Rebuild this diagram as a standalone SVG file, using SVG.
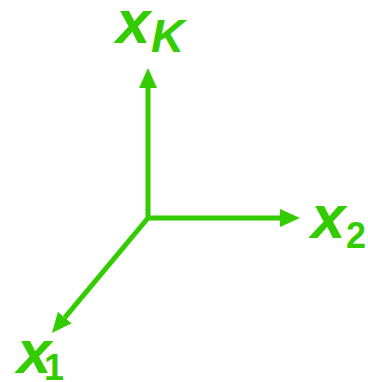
<svg xmlns="http://www.w3.org/2000/svg" width="368" height="382" viewBox="0 0 368 382">
<style>
.ax{stroke:#33cc00;stroke-width:5;fill:none;marker-end:url(#ah)}
.lb{font-family:"Liberation Sans",Arial,sans-serif;font-weight:bold;font-style:italic;fill:#33cc00}
.sb{font-family:"Liberation Sans",Arial,sans-serif;font-weight:bold;fill:#33cc00}
</style>
<defs>
<marker id="ah" viewBox="0 0 20 18" refX="0" refY="9" markerWidth="20" markerHeight="18" markerUnits="userSpaceOnUse" orient="auto">
<path d="M0,0 L20,9 L0,18 z" fill="#33cc00"/>
</marker>
</defs>
<rect width="368" height="382" fill="#ffffff"/>
<g id="connectors">
<line class="ax" x1="148" y1="218" x2="148" y2="88"/>
<line class="ax" x1="146" y1="218" x2="280" y2="218"/>
<line class="ax" x1="148" y1="218" x2="64.8" y2="317.6"/>
</g>
<g id="xK"><text class="lb" x="116" y="43" font-size="62">x</text><text class="lb" x="151" y="52" font-size="46">K</text></g>
<g id="x2"><text class="lb" x="311" y="238" font-size="62">x</text><text class="sb" x="346" y="248" font-size="36">2</text></g>
<g id="x1"><text class="lb" x="17" y="373" font-size="62">x</text><text class="sb" x="44" y="380" font-size="36">1</text></g>
</svg>
